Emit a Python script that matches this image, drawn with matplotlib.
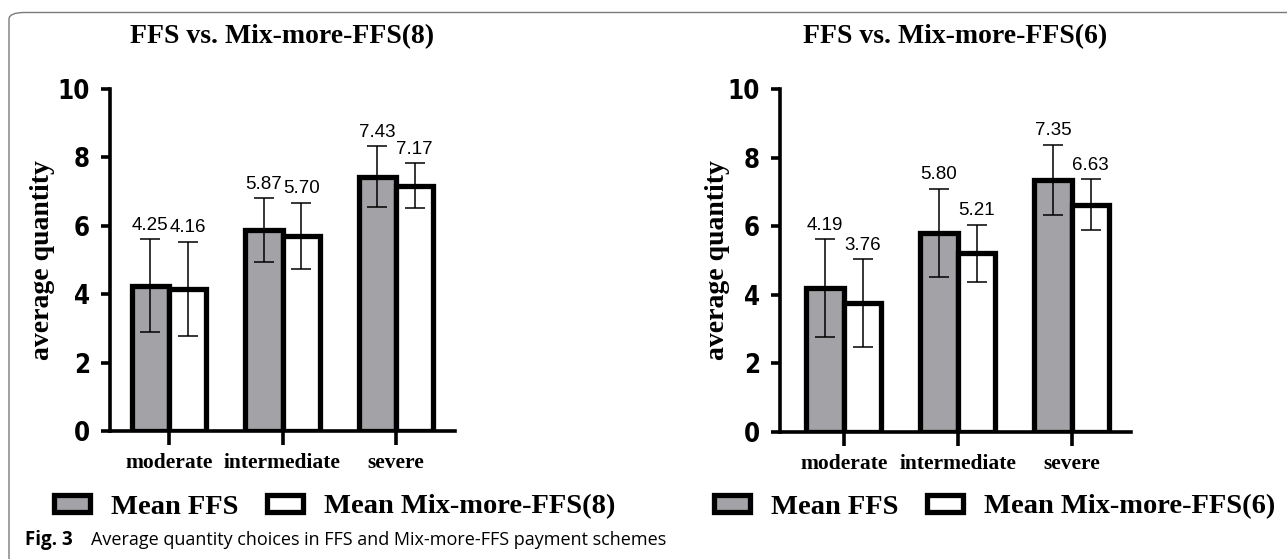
import matplotlib.pyplot as plt
import numpy as np
from matplotlib.patches import Patch, FancyBboxPatch

# data
categories = ['moderate', 'intermediate', 'severe']

ffs_8 = [4.25, 5.87, 7.43]
ffs_8_sd = [1.36, 0.93, 0.89]
mix_8 = [4.16, 5.70, 7.17]
mix_8_sd = [1.37, 0.97, 0.66]

ffs_6 = [4.19, 5.80, 7.35]
ffs_6_sd = [1.43, 1.29, 1.03]
mix_6 = [3.76, 5.21, 6.63]
mix_6_sd = [1.28, 0.83, 0.74]

titles = ['FFS vs. Mix-more-FFS(8)', 'FFS vs. Mix-more-FFS(6)']
legend_labels = [['Mean FFS', 'Mean Mix-more-FFS(8)'], ['Mean FFS', 'Mean Mix-more-FFS(6)']]

W, H = 1287, 559
fig = plt.figure(figsize=(W / 100, H / 100), dpi=100)

serif = ['Liberation Serif', 'DejaVu Serif']
sans = ['Liberation Sans', 'DejaVu Sans']
gray = '#a3a3a7'

# panel boxes in pixels: (left, right, top, bottom)
boxes = [(110, 455, 89, 431), (780, 1131, 89, 432)]
xlims = [(-0.52, 2.52), (-0.56, 2.52)]
ylabel_x = [43, 718]
legend_cx = [335, 995]
panels = [(ffs_8, ffs_8_sd, mix_8, mix_8_sd), (ffs_6, ffs_6_sd, mix_6, mix_6_sd)]

w = 0.33
x = np.arange(len(categories))

for i, (a, a_sd, b, b_sd) in enumerate(panels):
    l, r, t, btm = boxes[i]
    ax = fig.add_axes([l / W, 1 - btm / H, (r - l) / W, (btm - t) / H])
    ax.bar(x - w / 2, a, w, color=gray, edgecolor='black', linewidth=3.8, zorder=2)
    ax.bar(x + w / 2, b, w, color='white', edgecolor='black', linewidth=3.8, zorder=2)
    ax.errorbar(x - w / 2, a, yerr=a_sd, fmt='none', ecolor='black',
                elinewidth=1.1, capsize=7.2, capthick=1.1, zorder=3)
    ax.errorbar(x + w / 2, b, yerr=b_sd, fmt='none', ecolor='black',
                elinewidth=1.1, capsize=7.2, capthick=1.1, zorder=3)
    for xs, vals, sds in [(x - w / 2, a, a_sd), (x + w / 2, b, b_sd)]:
        for xi, v, s in zip(xs, vals, sds):
            ax.annotate(f'{v:.2f}', (xi, v + s), xytext=(0, 4), textcoords='offset points',
                        ha='center', va='bottom', fontsize=13.5, family=sans)

    ax.set_xlim(*xlims[i])
    ax.set_ylim(0, 10)
    ax.set_yticks([0, 2, 4, 6, 8, 10])
    ax.set_xticks(x)
    ax.set_xticklabels(categories, family=serif, fontweight='bold', fontsize=15.5)
    for lab in ax.get_yticklabels():
        lab.set_family('DejaVu Sans')
        lab.set_fontstretch('condensed')
        lab.set_fontweight('bold')
        lab.set_fontsize(18.5)
    for s in ['top', 'right']:
        ax.spines[s].set_visible(False)
    for s in ['left', 'bottom']:
        ax.spines[s].set_linewidth(2.6)
    ax.tick_params(axis='y', length=6.5, width=2.6, pad=8)
    ax.tick_params(axis='x', length=10, width=2.6, pad=6)

    fig.text((l + r) / 2 / W, 1 - 37 / H, titles[i], ha='center', va='center',
             family=serif, fontweight='bold', fontsize=20)
    fig.text(ylabel_x[i] / W, 1 - (t + btm) / 2 / H, 'average quantity', rotation=90,
             ha='center', va='center', family=serif, fontweight='bold', fontsize=20)

    handles = [Patch(facecolor=gray, edgecolor='black', linewidth=3.8),
               Patch(facecolor='white', edgecolor='black', linewidth=3.8)]
    fig.legend(handles, legend_labels[i], loc='center', ncol=2,
               bbox_to_anchor=(legend_cx[i] / W, 1 - 507 / H), frameon=False,
               prop={'family': serif, 'weight': 'bold', 'size': 20.5},
               handlelength=1.25, handleheight=0.5, handletextpad=0.75, columnspacing=1.0)

# outer rounded border
border = FancyBboxPatch((9 / W, -0.05), 1.2, 1 - 12.5 / H + 0.05,
                        boxstyle='round,pad=0,rounding_size=0.012',
                        transform=fig.transFigure, facecolor='none',
                        edgecolor='#7a7a7a', linewidth=1.0)
fig.patches.append(border)

# caption
cap_font = ['Open Sans', 'DejaVu Sans']
fig.text(25 / W, 1 - 545 / H, 'Fig. 3', ha='left', va='baseline',
         family=cap_font, fontweight='bold', fontsize=13.5)
fig.text(91 / W, 1 - 545 / H, 'Average quantity choices in FFS and Mix-more-FFS payment schemes',
         ha='left', va='baseline', family=cap_font, fontsize=13)

fig.savefig('out.png', dpi=100)
